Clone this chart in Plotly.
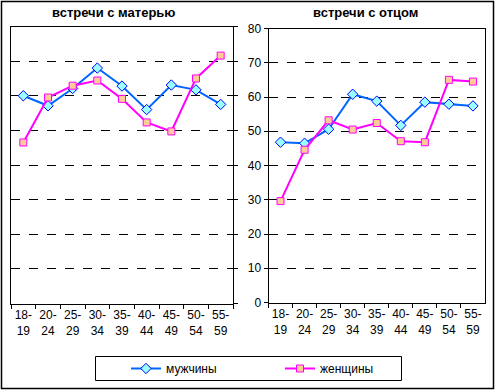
import plotly.graph_objects as go

categories = ["18-<br>19", "20-<br>24", "25-<br>29", "30-<br>34", "35-<br>39",
              "40-<br>44", "45-<br>49", "50-<br>54", "55-<br>59"]
mother_men = [60.0, 57.1, 62.1, 68.0, 62.8, 56.0, 63.1, 61.7, 57.5]
mother_women = [46.5, 59.5, 62.9, 64.4, 59.1, 52.3, 49.7, 65.0, 71.6]
father_men = [46.8, 46.5, 50.6, 60.8, 58.8, 51.7, 58.5, 57.9, 57.4]
father_women = [29.6, 44.6, 53.2, 50.5, 52.4, 47.1, 46.8, 65.0, 64.5]
y_ticks = [0, 10, 20, 30, 40, 50, 60, 70, 80]
titles = ["встречи с матерью", "встречи с отцом"]
series_names = ["мужчины", "женщины"]

W, H = 495, 390
FONT = "Liberation Sans, Arial, sans-serif"

men_style = dict(mode="lines+markers",
                 line=dict(color="#0066FF", width=2),
                 marker=dict(symbol="diamond", size=8, color="#99FFFF",
                             line=dict(color="#0000FF", width=1)))
women_style = dict(mode="lines+markers",
                   line=dict(color="#FF00FF", width=2),
                   marker=dict(symbol="square", size=7, color="#FFCC99",
                               line=dict(color="#FF00FF", width=1)))

fig = go.Figure()
fig.add_trace(go.Scatter(x=categories, y=mother_men, name=series_names[0],
                         xaxis="x", yaxis="y", showlegend=True, **men_style))
fig.add_trace(go.Scatter(x=categories, y=mother_women, name=series_names[1],
                         xaxis="x", yaxis="y", showlegend=True, **women_style))
fig.add_trace(go.Scatter(x=categories, y=father_men, name=series_names[0],
                         xaxis="x2", yaxis="y2", showlegend=False, **men_style))
fig.add_trace(go.Scatter(x=categories, y=father_women, name=series_names[1],
                         xaxis="x2", yaxis="y2", showlegend=False, **women_style))

def px_x(p):
    return p / W

def px_y(p):
    return (H - p) / H

xcommon = dict(type="category", range=[-0.5, 8.5], tickson="boundaries",
               ticks="outside", ticklen=4, tickcolor="black", tickwidth=1,
               tickangle=0, automargin=False,
               showline=True, linecolor="black", linewidth=1, mirror=True,
               showgrid=False, tickfont=dict(family=FONT, size=12, color="black"),
               fixedrange=True)
ycommon = dict(range=[0, 80], tickvals=y_ticks, ticks="outside", ticklen=4,
               tickcolor="black", tickwidth=1, automargin=False,
               showline=True, linecolor="black", linewidth=1, mirror=True,
               showgrid=True, gridcolor="black", gridwidth=1, griddash="dash",
               zeroline=False, tickfont=dict(family=FONT, size=12, color="black"),
               fixedrange=True)

fig.update_layout(
    width=W, height=H,
    margin=dict(l=0, r=0, t=0, b=0),
    paper_bgcolor="white", plot_bgcolor="white",
    xaxis=dict(domain=[px_x(11), px_x(233)], anchor="y", **xcommon),
    yaxis=dict(domain=[px_y(303.5), px_y(26.5)], anchor="x", side="right",
               showticklabels=False, **ycommon),
    xaxis2=dict(domain=[px_x(268.5), px_x(485)], anchor="y2", **xcommon),
    yaxis2=dict(domain=[px_y(302.5), px_y(28.5)], anchor="x2", side="left",
                showticklabels=True, **ycommon),
    showlegend=True,
    legend=dict(orientation="h", x=px_x(126), y=px_y(368.5),
                xanchor="left", yanchor="middle",
                bgcolor="rgba(0,0,0,0)", borderwidth=0,
                entrywidth=109, entrywidthmode="pixels",
                font=dict(family=FONT, size=12, color="black")),
    font=dict(family=FONT, size=12, color="black"),
)

fig.add_annotation(text="<b>" + titles[0] + "</b>", xref="paper", yref="paper",
                   x=px_x(113), y=px_y(13), xanchor="center", yanchor="middle",
                   showarrow=False,
                   font=dict(family=FONT, size=13, color="black"))
fig.add_annotation(text="<b>" + titles[1] + "</b>", xref="paper", yref="paper",
                   x=px_x(365), y=px_y(12), xanchor="center", yanchor="middle",
                   showarrow=False,
                   font=dict(family=FONT, size=13, color="black"))

# legend frame and outer frame
fig.add_shape(type="rect", xref="paper", yref="paper",
              x0=px_x(95.5), x1=px_x(401.5), y0=px_y(380.5), y1=px_y(356.5),
              line=dict(color="black", width=1), fillcolor="rgba(0,0,0,0)")
fig.add_shape(type="rect", xref="paper", yref="paper",
              x0=px_x(1.5), x1=px_x(493.5), y0=px_y(388.5), y1=px_y(1.5),
              line=dict(color="black", width=1.5), fillcolor="rgba(0,0,0,0)")

fig.write_html("out.html",
               config={"displayModeBar": False},
               post_script="document.body.style.margin='0';"
                           "document.body.style.overflow='hidden';")
